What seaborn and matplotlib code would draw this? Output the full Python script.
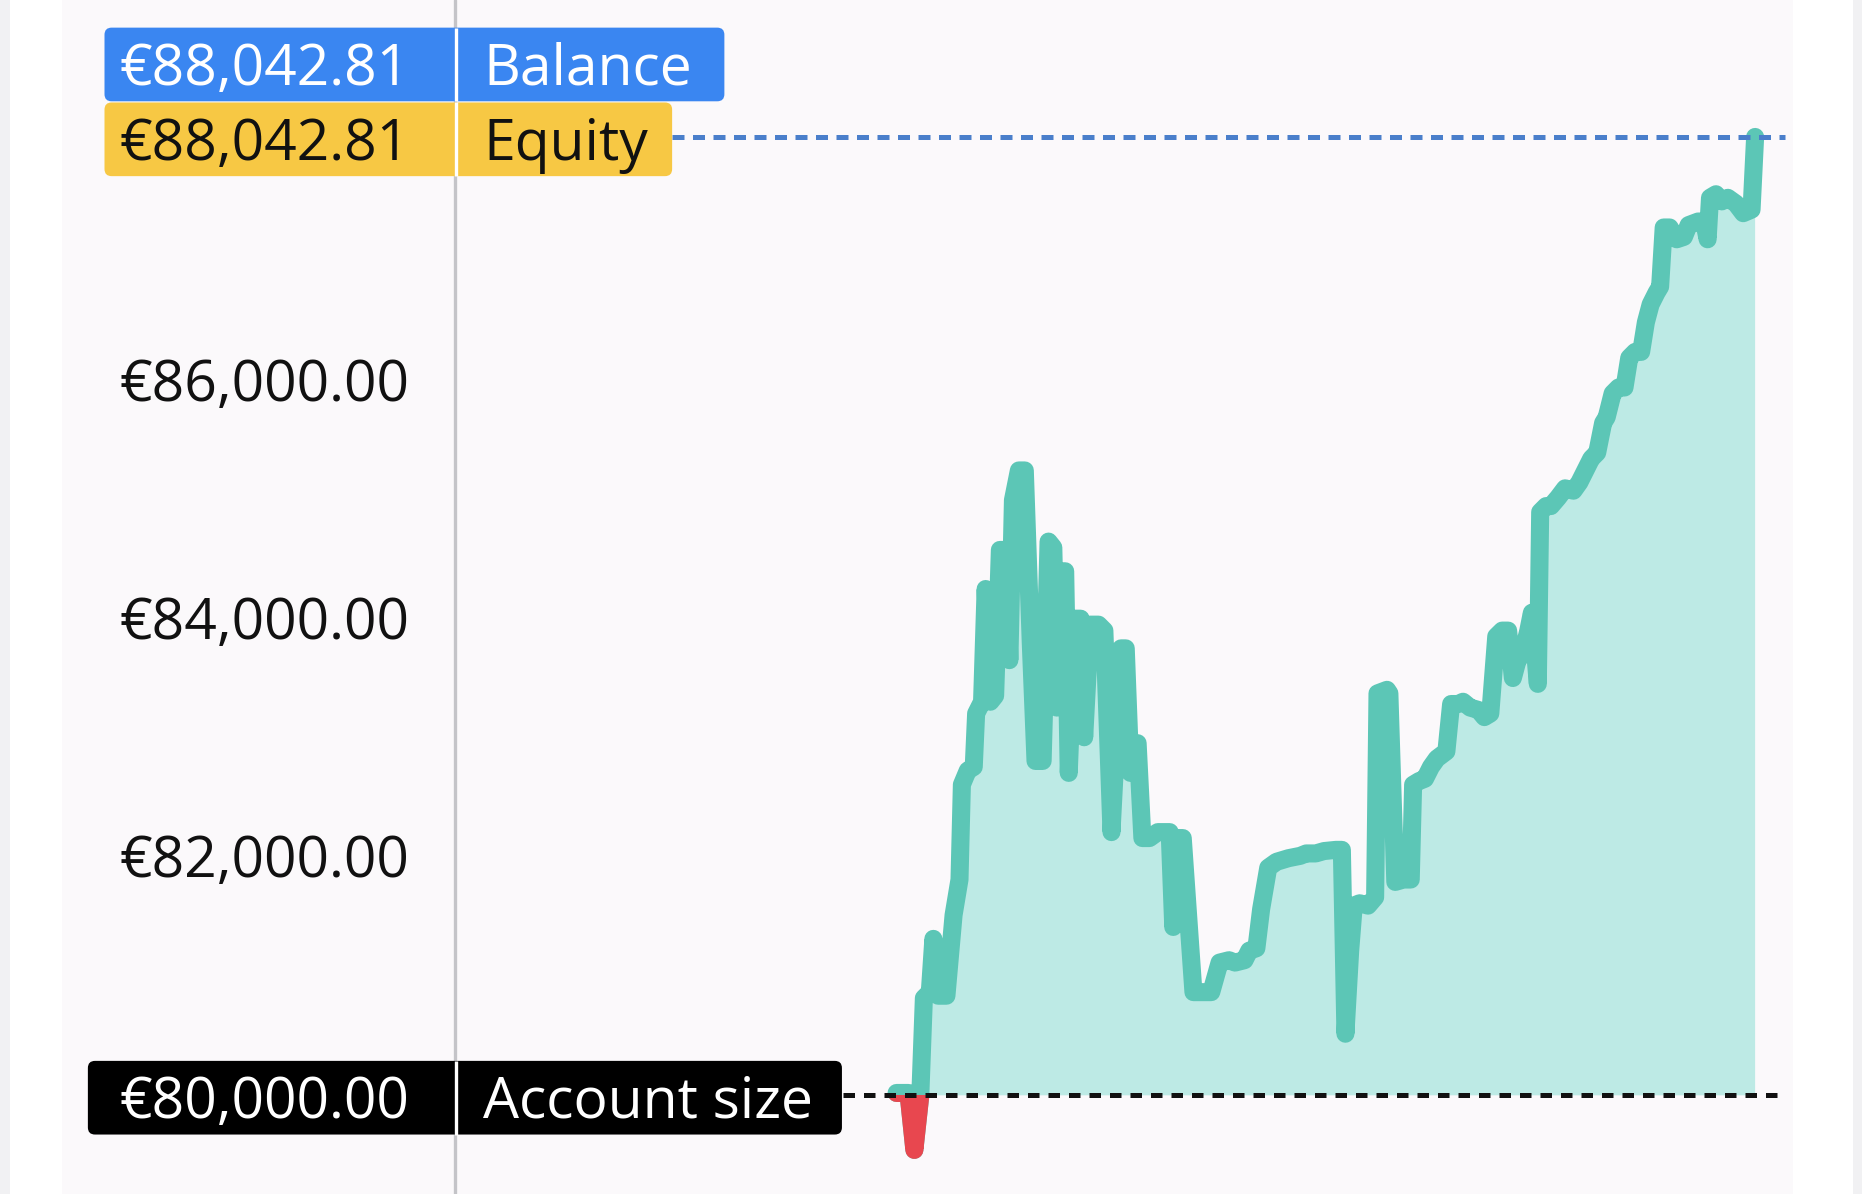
import numpy as np
import pandas as pd
import matplotlib
matplotlib.use("Agg")
import matplotlib.pyplot as plt
from matplotlib.patches import FancyBboxPatch, Rectangle
import seaborn as sns

# ---------------- data ----------------
hours = [0, 10, 15, 20, 23, 28, 31, 35, 42, 48, 53, 55, 60, 65, 67, 72, 75, 79, 83, 87,
         92, 95, 98, 103, 108, 113, 117, 123, 128, 132, 135, 139, 142, 145, 150, 155,
         158, 163, 170, 175, 181, 189, 193, 197, 200, 203, 207, 213, 220, 230, 233,
         235, 241, 250, 260, 265, 272, 280, 285, 293, 297, 303, 307, 313, 320, 330,
         340, 345, 353, 360, 370, 375, 378, 382, 385, 390, 397, 403, 405, 413, 415,
         420, 427, 433, 435, 440, 445, 450, 455, 463, 467, 473, 477, 483, 490, 495,
         500, 505, 510, 515, 519, 523, 527, 532, 535, 540, 542, 547, 551, 557, 563,
         570, 575, 580, 585, 590, 595, 598, 603, 608, 613, 617, 622, 627, 631, 635,
         640, 643, 646, 651, 657, 663, 667, 675, 680, 683, 685, 690, 695, 700, 707,
         713, 720, 723]
equity = [80020, 80020, 79542, 80000, 80816, 80866, 81313, 80836, 80836, 81512, 81811,
          82607, 82726, 82756, 83204, 83303, 84249, 83303, 83353, 84577, 84577, 83652,
          84995, 85244, 85244, 83801, 82806, 82806, 84647, 84597, 83254, 84398, 84398,
          82706, 84000, 84000, 83005, 83950, 83950, 83900, 82209, 83751, 83751, 82706,
          82955, 82955, 82159, 82159, 82209, 82209, 81413, 82159, 82159, 80866, 80866,
          80866, 81114, 81134, 81114, 81134, 81214, 81234, 81562, 81910, 81960, 81990,
          82010, 82030, 82030, 82050, 82060, 82060, 80517, 81214, 81592, 81612, 81592,
          81662, 83373, 83403, 83373, 81791, 81811, 81811, 82607, 82637, 82657, 82756,
          82826, 82886, 83284, 83284, 83303, 83254, 83234, 83174, 83204, 83851, 83900,
          83900, 83502, 83652, 83701, 83900, 84050, 83453, 84895, 84945, 84945, 85015,
          85094, 85074, 85144, 85244, 85343, 85393, 85642, 85691, 85890, 85940, 85940,
          86189, 86239, 86239, 86487, 86637, 86736, 86786, 87283, 87283, 87184, 87204,
          87303, 87333, 87333, 87184, 87532, 87562, 87502, 87532, 87482, 87403, 87433,
          88042.81]
account_size = 80000.00
balance_value = 88042.81
equity_value = 88042.81
ytick_values = [82000, 84000, 86000]
box_labels = ["Balance", "Equity", "Account size"]

def euro(v):
    return "\u20ac{:,.2f}".format(v)

# ---------------- style ----------------
sns.set_theme(style="white")
plt.rcParams["font.family"] = ["Open Sans", "DejaVu Sans"]

TEAL = "#5CC6B6"
TEAL_FILL = "#BDEAE5"
RED = "#E8474F"
BLUE = "#3A86F1"
YELLOW = "#F7C844"
PLOT_BG = "#FBF9FB"
FS = 41
LW = 13

W, H = 1568, 1005  # layout units (proportional to 1862x1194 px)
fig = plt.figure(figsize=(18.62, 11.94), dpi=100, facecolor="white")

# outer grey strips
fig.patches.append(Rectangle((0, 0), 8 / W, 1, transform=fig.transFigure,
                             facecolor="#F1F1F3", edgecolor="none", zorder=0))
fig.patches.append(Rectangle((1560 / W, 0), 8 / W, 1, transform=fig.transFigure,
                             facecolor="#F1F1F3", edgecolor="none", zorder=0))

ax = fig.add_axes([52 / W, 0, 1458 / W, 1])
ax.set_facecolor(PLOT_BG)
for s in ax.spines.values():
    s.set_visible(False)
ax.set_xticks([])
ax.set_yticks([])
ax.set_xlim(-703, 755)
ax.set_ylim(79172, 89192)

df = pd.DataFrame({"hours": hours, "equity": equity})
eq = np.array(equity)
hr = np.array(hours)

ax.fill_between(hr, account_size, eq, where=eq >= account_size, interpolate=True,
                color=TEAL_FILL, linewidth=0, zorder=2)
ax.fill_between(hr, account_size, eq, where=eq < account_size, interpolate=True,
                color=RED, linewidth=0, zorder=2)

sns.lineplot(data=df, x="hours", y="equity", ax=ax, color=TEAL, lw=LW,
             sort=False, estimator=None, zorder=3)
for ln in ax.lines:
    ln.set_linewidth(LW)
    ln.set_solid_joinstyle("round")
    ln.set_solid_capstyle("round")

# red part of the line below the account size
red_line, = ax.plot(hr, eq, color=RED, linewidth=LW, zorder=4,
                    solid_joinstyle="round", solid_capstyle="round")
clip = Rectangle((hr.min() - 50, 78000), hr.max() + 100, account_size - 78000,
                 transform=ax.transData, facecolor="none", edgecolor="none")
ax.add_patch(clip)
red_line.set_clip_path(clip)

# reference lines
ax.axhline(equity_value, xmin=(566 - 52) / 1458, xmax=(1503 - 52) / 1458,
           color="#4A7FCB", linewidth=3.6, linestyle=(0, (2.4, 1.7)), zorder=5)
ax.axhline(account_size, xmin=(710 - 52) / 1458, xmax=(1503 - 52) / 1458,
           color="#111111", linewidth=3.6, linestyle=(0, (2.3, 1.8)), zorder=5)

# ---------------- overlay for labels ----------------
ov = fig.add_axes([0, 0, 1, 1], zorder=5)
ov.set_xlim(0, W)
ov.set_ylim(H, 0)
ov.axis("off")
ov.patch.set_alpha(0)

def to_ov(v):
    px = ax.transData.transform((0, v))
    return ov.transData.inverted().transform(px)[1]

ov.plot([383, 383], [0, H], color="#C4C4C8", linewidth=2.4, zorder=1)

BASE_OFF = 17
VAL_X = 345
LAB_X = 407

for v in ytick_values:
    ov.text(VAL_X, to_ov(v) + BASE_OFF, euro(v), ha="right", va="baseline",
            fontsize=FS, color="#111111", zorder=6)

def tag(yc, x0, x1, color, txtcolor, value_text, label):
    h = 62
    r = 6
    box = FancyBboxPatch((x0 + r, yc - h / 2 + r), (x1 - x0) - 2 * r, h - 2 * r,
                         boxstyle="round,pad=%d,rounding_size=%d" % (r, r),
                         facecolor=color, edgecolor="none", zorder=3)
    ov.add_patch(box)
    ov.plot([384, 384], [yc - h / 2, yc + h / 2], color="white", linewidth=2.4,
            zorder=4, solid_capstyle="butt")
    ov.text(VAL_X, yc + BASE_OFF, value_text, ha="right", va="baseline",
            fontsize=FS, color=txtcolor, zorder=6)
    ov.text(LAB_X, yc + BASE_OFF, label, ha="left", va="baseline",
            fontsize=FS, color=txtcolor, zorder=6)

y_eq = to_ov(equity_value)
tag(y_eq + 2, 88, 566, YELLOW, "#111111", euro(equity_value), box_labels[1])
tag(y_eq + 2 - 63, 88, 610, BLUE, "white", euro(balance_value), box_labels[0])
tag(to_ov(account_size) + 2, 74, 709, "black", "white", euro(account_size), box_labels[2])

fig.savefig("out.png", dpi=100, facecolor=fig.get_facecolor())
